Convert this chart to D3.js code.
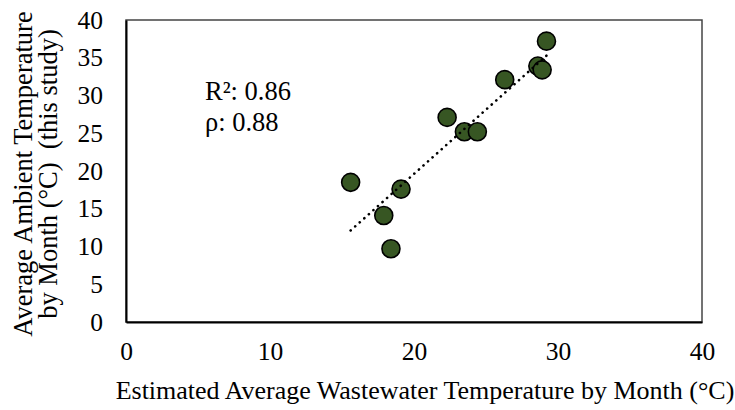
<!DOCTYPE html>
<html>
<head>
<meta charset="utf-8">
<script src="https://cdn.jsdelivr.net/npm/d3@7"></script>
<style>
  body { margin: 0; background: #fff; }
  svg text { font-family: "Liberation Serif", "Times New Roman", serif; fill: #000; white-space: pre; }
</style>
</head>
<body>
<svg id="chart" width="735" height="410"></svg>
<script>
// Data
const wastewaterTemp = [29.2, 28.6, 28.9, 26.3, 22.3, 23.5, 24.4, 15.6, 19.1, 17.9, 18.4];
const ambientTemp    = [37.2, 33.9, 33.4, 32.1, 27.1, 25.2, 25.2, 18.5, 17.6, 14.1, 9.7];
const xTicks = [0, 10, 20, 30, 40];
const yTicks = [0, 5, 10, 15, 20, 25, 30, 35, 40];
const statLines = ["R²: 0.86", "ρ: 0.88"];
const xTitle = "Estimated Average Wastewater Temperature by Month (°C)";
const yTitleLines = ["Average Ambient Temperature", "by Month (°C)  (this study)"];

const svg = d3.select("#chart");
const margin = { left: 126, right: 33, top: 20, bottom: 88 };
const W = 735, H = 410;
const x = d3.scaleLinear().domain([0, 40]).range([margin.left, W - margin.right]);
const y = d3.scaleLinear().domain([0, 40]).range([H - margin.bottom, margin.top]);

// plot frame (top/right)
svg.append("rect")
  .attr("x", x(0)).attr("y", y(40))
  .attr("width", x(40) - x(0)).attr("height", y(0) - y(40))
  .attr("fill", "none").attr("stroke", "#444").attr("stroke-width", 1.5);

// axes
const xAxis = svg.append("g").attr("transform", `translate(0,${y(0)})`)
  .call(d3.axisBottom(x).tickValues(xTicks).tickSize(0).tickPadding(20).tickFormat(d3.format("d")));
const yAxis = svg.append("g").attr("transform", `translate(${x(0)},0)`)
  .call(d3.axisLeft(y).tickValues(yTicks).tickSize(0).tickPadding(23).tickFormat(d3.format("d")));
[xAxis, yAxis].forEach(g => {
  g.select(".domain").attr("stroke", "#000").attr("stroke-width", 2);
  g.selectAll("text").attr("font-size", 25.5).attr("font-family", "Liberation Serif");
});

// points
svg.append("g").selectAll("circle")
  .data(wastewaterTemp.map((v, i) => [v, ambientTemp[i]]))
  .join("circle")
  .attr("cx", d => x(d[0])).attr("cy", d => y(d[1]))
  .attr("r", 9)
  .attr("fill", "#375623").attr("stroke", "#000").attr("stroke-width", 1.6);

// linear trendline (least squares from the data)
const n = wastewaterTemp.length;
const mx = d3.mean(wastewaterTemp), my = d3.mean(ambientTemp);
let sxy = 0, sxx = 0;
for (let i = 0; i < n; i++) {
  sxy += (wastewaterTemp[i] - mx) * (ambientTemp[i] - my);
  sxx += (wastewaterTemp[i] - mx) ** 2;
}
const slope = sxy / sxx, intercept = my - slope * mx;
const [x0, x1] = d3.extent(wastewaterTemp);
svg.append("line")
  .attr("x1", x(x0)).attr("y1", y(intercept + slope * x0))
  .attr("x2", x(x1)).attr("y2", y(intercept + slope * x1))
  .attr("stroke", "#000").attr("stroke-width", 2.6)
  .attr("stroke-linecap", "round").attr("stroke-dasharray", "0.1 6");

// stats text
const st = svg.append("g");
statLines.forEach((t, i) => {
  st.append("text").attr("x", 205).attr("y", 100 + i * 31)
    .attr("font-size", 26.5).text(t);
});

// axis titles
svg.append("text")
  .attr("x", 425).attr("y", 399)
  .attr("text-anchor", "middle").attr("font-size", 26).text(xTitle);

yTitleLines.forEach((t, i) => {
  svg.append("text")
    .attr("transform", `translate(${32 + i * 25},${174}) rotate(-90)`)
    .attr("text-anchor", "middle").attr("font-size", 26.5).text(t);
});
</script>
</body>
</html>
